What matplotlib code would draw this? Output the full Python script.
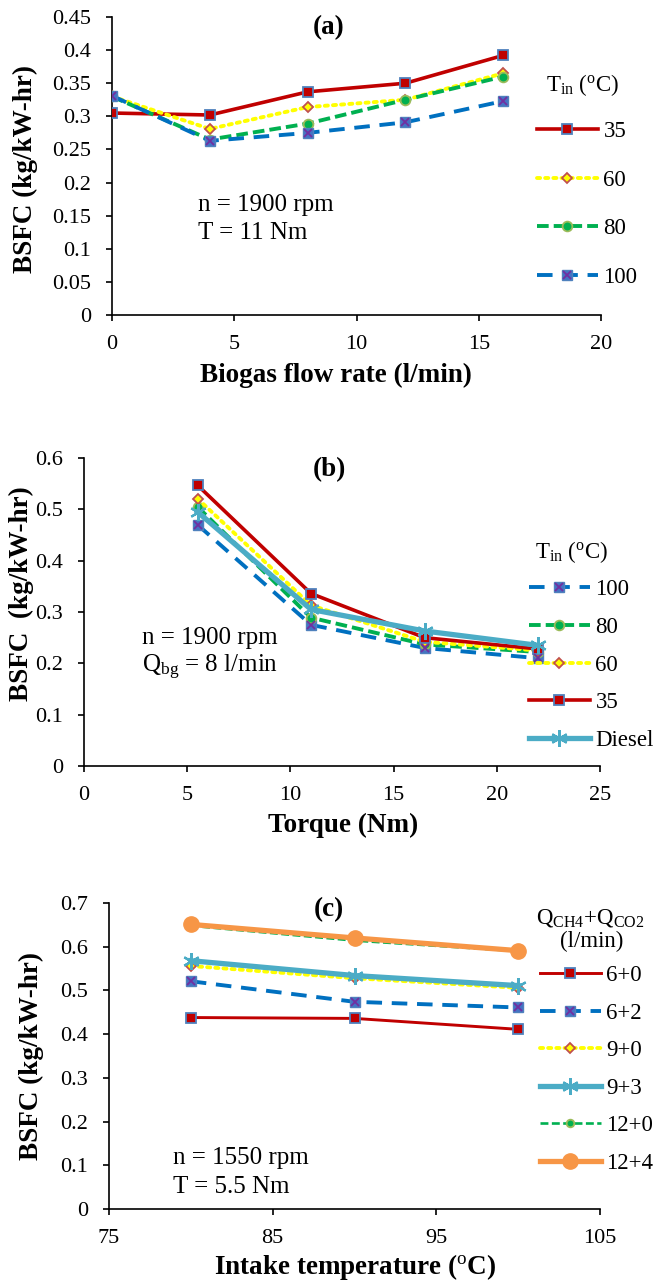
import numpy as np
import matplotlib
matplotlib.use('Agg')
import matplotlib.pyplot as plt
from matplotlib.lines import Line2D
from matplotlib.legend_handler import HandlerTuple

plt.rcParams['font.family'] = ['Liberation Serif', 'DejaVu Serif']
plt.rcParams['mathtext.fontset'] = 'custom'
plt.rcParams['mathtext.rm'] = 'Liberation Serif'
plt.rcParams['mathtext.it'] = 'Liberation Serif:italic'
plt.rcParams['mathtext.bf'] = 'Liberation Serif:bold'

# ---------------- data ----------------
# (a) BSFC vs biogas flow rate, n = 1900 rpm, T = 11 Nm
flow_a = [0, 4, 8, 12, 16]
a_35 = [0.305, 0.302, 0.337, 0.350, 0.392]
a_60 = [0.330, 0.281, 0.314, 0.325, 0.365]
a_80 = [0.330, 0.265, 0.289, 0.325, 0.360]
a_100 = [0.331, 0.263, 0.275, 0.291, 0.323]

# (b) BSFC vs torque, n = 1900 rpm, Qbg = 8 l/min
torque_b = [5.5, 11, 16.5, 22]
b_100 = [0.470, 0.275, 0.230, 0.210]
b_80 = [0.505, 0.289, 0.237, 0.222]
b_60 = [0.521, 0.313, 0.242, 0.225]
b_35 = [0.547, 0.336, 0.250, 0.228]
b_diesel = [0.495, 0.305, 0.263, 0.235]

# (c) BSFC vs intake temperature, n = 1550 rpm, T = 5.5 Nm
temp_c = [80, 90, 100]
c_6_0 = [0.438, 0.436, 0.411]
c_6_2 = [0.521, 0.474, 0.461]
c_9_0 = [0.556, 0.528, 0.506]
c_9_3 = [0.568, 0.534, 0.511]
c_12_0 = [0.648, 0.614, 0.590]
c_12_4 = [0.651, 0.620, 0.591]

RED = '#C00000'
YEL = '#FFFF00'
GRN = '#00B050'
BLU = '#0070C0'
SKY = '#4BACC6'
ORG = '#F79646'
EDGE = '#4F81BD'

TICK_FS = 16
LAB_FS = 19.5
TXT_FS = 18
LEG_FS = 16.5
W, H = 654, 1281


def s35(ax, x, y, lw=2.6):
    ax.plot(x, y, color=RED, lw=lw, marker='s', ms=7, mfc=RED, mec=EDGE, mew=1.3, zorder=3)
    return Line2D([], [], color=RED, lw=lw, marker='s', ms=7, mfc=RED, mec=EDGE, mew=1.3)


def s60(ax, x, y):
    ax.plot(x, y, color=YEL, lw=2.8, ls=(0, (0.8, 1.3)), dash_capstyle='round',
            marker='D', ms=5.5, mfc=YEL, mec='#C0504D', mew=1.3, zorder=3)
    return Line2D([], [], color=YEL, lw=2.8, ls=(0, (0.8, 1.3)), dash_capstyle='round',
                  marker='D', ms=5.5, mfc=YEL, mec='#C0504D', mew=1.3)


def s80(ax, x, y, lw=2.8, ms=7):
    ax.plot(x, y, color=GRN, lw=lw, ls=(0, (3, 1.3)),
            marker='o', ms=ms, mfc=GRN, mec='#9BBB59', mew=1.3, zorder=3)
    return Line2D([], [], color=GRN, lw=lw, ls=(0, (3, 1.3)),
                  marker='o', ms=ms, mfc=GRN, mec='#9BBB59', mew=1.3)


def s100(ax, x, y):
    ax.plot(x, y, color=BLU, lw=2.8, ls=(0, (4, 2.5)),
            marker='s', ms=7.5, mfc='#4472C4', mec=EDGE, mew=1, zorder=3)
    ax.plot(x, y, ls='none', marker='x', ms=6, mec='#7030A0', mew=1.3, zorder=4)
    h1 = Line2D([], [], color=BLU, lw=2.8, ls=(0, (4, 2.5)),
                marker='s', ms=7.5, mfc='#4472C4', mec=EDGE, mew=1)
    h2 = Line2D([], [], ls='none', marker='x', ms=6, mec='#7030A0', mew=1.3)
    return (h1, h2)


def sstar(ax, x, y, lw=3.8):
    ax.plot(x, y, color=SKY, lw=lw, marker=(6, 2, 0), ms=12, mec=SKY, mew=1.6, zorder=3)
    return Line2D([], [], color=SKY, lw=lw, marker=(6, 2, 0), ms=12, mec=SKY, mew=1.6)


def sorange(ax, x, y):
    ax.plot(x, y, color=ORG, lw=3.8, marker='o', ms=11, mfc=ORG, mec=ORG, zorder=3)
    return Line2D([], [], color=ORG, lw=3.8, marker='o', ms=11, mfc=ORG, mec=ORG)


def style(ax):
    for s in ['top', 'right']:
        ax.spines[s].set_visible(False)
    for s in ['left', 'bottom']:
        ax.spines[s].set_linewidth(1.2)
    ax.tick_params(direction='out', length=4, width=1.2, labelsize=TICK_FS)
    ax.tick_params(axis='x', pad=10.5)
    ax.tick_params(axis='y', pad=11)


def legend(ax, handles, labels, x, y, spacing):
    # x, y: pixel position of top-left corner of the entries block
    return ax.legend(handles, labels, loc='upper left',
                     bbox_to_anchor=(x / W, 1 - y / H), bbox_transform=fig.transFigure,
                     frameon=False, fontsize=LEG_FS,
                     handlelength=2.65, handletextpad=0.25, labelspacing=spacing,
                     borderaxespad=0, borderpad=0, numpoints=1,
                     handler_map={tuple: HandlerTuple(ndivide=1)})


def ftext(x, y, s, **kw):
    fig.text(x / W, 1 - y / H, s, **kw)


fig = plt.figure(figsize=(6.54, 12.81), dpi=100)
tin = r'T$_{\mathrm{in}}$ ($^{\mathrm{o}}$C)'

# ---------------- (a) ----------------
ax1 = fig.add_axes([112 / W, 1 - 315 / H, 489 / W, 298 / H])
h = [s35(ax1, flow_a, a_35), s60(ax1, flow_a, a_60), s80(ax1, flow_a, a_80), s100(ax1, flow_a, a_100)]
ax1.set_xlim(0, 20)
ax1.set_ylim(0, 0.45)
ax1.set_xticks(np.arange(0, 21, 5))
ax1.set_yticks(np.arange(0, 0.451, 0.05))
ax1.set_yticklabels(['0', '0.05', '0.1', '0.15', '0.2', '0.25', '0.3', '0.35', '0.4', '0.45'])
style(ax1)
ftext(336, 375, 'Biogas flow rate (l/min)', fontsize=LAB_FS, fontweight='bold', ha='center', va='center')
ftext(25, 169, 'BSFC (kg/kW-hr)', fontsize=LAB_FS, fontweight='bold', ha='center', va='center', rotation=90)
ax1.text(0.444, 0.963, '(a)', transform=ax1.transAxes, fontsize=LAB_FS, fontweight='bold', ha='center', va='center')
ax1.text(0.176, 0.369, 'n = 1900 rpm', transform=ax1.transAxes, fontsize=TXT_FS, ha='left', va='center')
ax1.text(0.176, 0.275, 'T = 11 Nm', transform=ax1.transAxes, fontsize=TXT_FS, ha='left', va='center')
ftext(546, 85, tin, fontsize=LEG_FS, ha='left', va='center')
legend(ax1, h, ['35', '60', '80', '100'], 537, 121, 1.2)

# ---------------- (b) ----------------
ax2 = fig.add_axes([84 / W, 1 - 766 / H, 516 / W, 308 / H])
hb = [s100(ax2, torque_b, b_100), s80(ax2, torque_b, b_80), s60(ax2, torque_b, b_60),
      s35(ax2, torque_b, b_35), sstar(ax2, torque_b, b_diesel)]
ax2.set_xlim(0, 25)
ax2.set_ylim(0, 0.6)
ax2.set_xticks(np.arange(0, 26, 5))
ax2.set_yticks(np.arange(0, 0.61, 0.1))
ax2.set_yticklabels(['0', '0.1', '0.2', '0.3', '0.4', '0.5', '0.6'])
style(ax2)
ftext(343, 825, 'Torque (Nm)', fontsize=LAB_FS, fontweight='bold', ha='center', va='center')
ftext(21, 594, 'BSFC  (kg/kW-hr)', fontsize=LAB_FS, fontweight='bold', ha='center', va='center', rotation=90)
ax2.text(0.475, 0.961, '(b)', transform=ax2.transAxes, fontsize=LAB_FS, fontweight='bold', ha='center', va='center')
ax2.text(0.112, 0.416, 'n = 1900 rpm', transform=ax2.transAxes, fontsize=TXT_FS, ha='left', va='center')
ax2.text(0.112, 0.321, 'Q$_{\\mathrm{bg}}$ = 8 l/min', transform=ax2.transAxes, fontsize=TXT_FS,
         ha='left', va='center')
ftext(535, 552, tin, fontsize=LEG_FS, ha='left', va='center')
legend(ax2, hb, ['100', '80', '60', '35', 'Diesel'], 529, 579, 0.73)

# ---------------- (c) ----------------
ax3 = fig.add_axes([109 / W, 1 - 1209 / H, 491 / W, 306 / H])
hc = [s35(ax3, temp_c, c_6_0, lw=2.1), s100(ax3, temp_c, c_6_2), s60(ax3, temp_c, c_9_0),
      sstar(ax3, temp_c, c_9_3), s80(ax3, temp_c, c_12_0, lw=1.9, ms=5.5), sorange(ax3, temp_c, c_12_4)]
ax3.set_xlim(75, 105)
ax3.set_ylim(0, 0.7)
ax3.set_xticks(np.arange(75, 106, 10))
ax3.set_yticks(np.arange(0, 0.71, 0.1))
ax3.set_yticklabels(['0', '0.1', '0.2', '0.3', '0.4', '0.5', '0.6', '0.7'])
style(ax3)
ftext(355, 1267, 'Intake temperature ($^{\\mathrm{o}}$C)', fontsize=LAB_FS, fontweight='bold',
      ha='center', va='center')
ftext(31, 1056, 'BSFC (kg/kW-hr)', fontsize=LAB_FS, fontweight='bold', ha='center', va='center', rotation=90)
ax3.text(0.448, 0.977, '(c)', transform=ax3.transAxes, fontsize=LAB_FS, fontweight='bold', ha='center', va='center')
ax3.text(0.130, 0.167, 'n = 1550 rpm', transform=ax3.transAxes, fontsize=TXT_FS, ha='left', va='center')
ax3.text(0.130, 0.072, 'T = 5.5 Nm', transform=ax3.transAxes, fontsize=TXT_FS, ha='left', va='center')
ftext(590, 918, 'Q$_{\\mathrm{CH4}}$+Q$_{\\mathrm{CO2}}$', fontsize=LEG_FS, ha='center', va='center')
ftext(592, 941, '(l/min)', fontsize=LEG_FS, ha='center', va='center')
legend(ax3, hc, ['6+0', '6+2', '9+0', '9+3', '12+0', '12+4'], 540, 965, 0.72)

fig.savefig('out.png', dpi=100)
